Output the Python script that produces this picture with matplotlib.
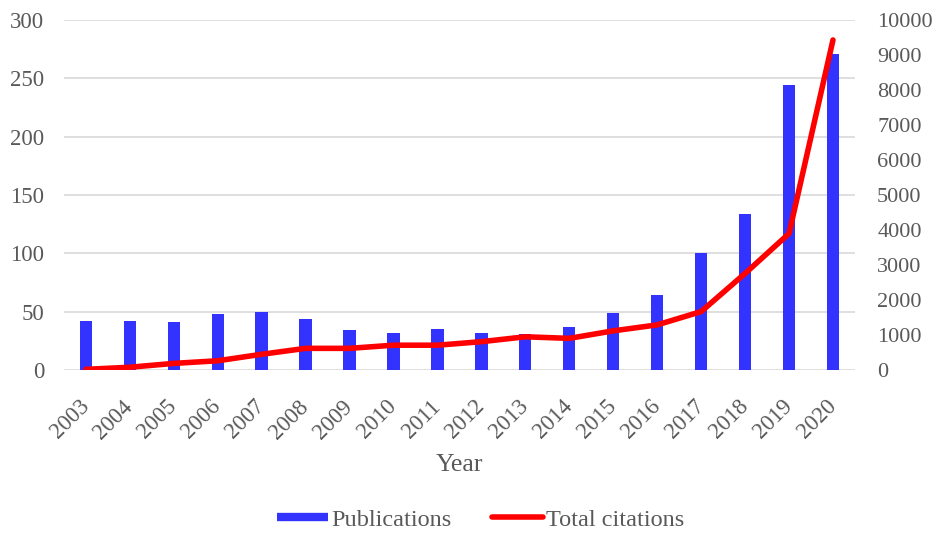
import matplotlib
matplotlib.use("Agg")
import matplotlib.pyplot as plt
from matplotlib.lines import Line2D
import numpy as np

years = [str(y) for y in range(2003, 2021)]
publications = [42, 42, 41, 48, 50, 44, 34, 32, 35, 32, 31, 37, 49, 64, 100, 134, 244, 271]
citations = [20, 80, 190, 265, 450, 620, 620, 710, 710, 810, 950, 905, 1120, 1290, 1670, 2760, 3900, 9430]
left_ticks = [0, 50, 100, 150, 200, 250, 300]
right_ticks = list(range(0, 10001, 1000))

plt.rcParams['font.family'] = ['Liberation Serif', 'DejaVu Serif']
text_color = '#595959'
bar_color = '#3333FF'
line_color = '#FF0000'

fig = plt.figure(figsize=(9.39, 5.41), dpi=100)
ax = fig.add_axes([0.068, 0.316, 0.8425, 0.647])
ax2 = ax.twinx()

x = np.arange(len(years))
ax.bar(x, publications, width=0.28, color=bar_color, zorder=2)
ax2.plot(x, citations, color=line_color, lw=4, solid_capstyle='round',
         solid_joinstyle='round', zorder=3)

ax.set_xlim(-0.5, len(years) - 0.5)
ax.set_ylim(0, 300)
ax2.set_ylim(0, 10000)
ax.set_yticks(left_ticks)
ax2.set_yticks(right_ticks)
ax.grid(axis='y', color='#D9D9D9', lw=1.2, zorder=0)
ax.set_axisbelow(True)

for a in (ax, ax2):
    for s in a.spines.values():
        s.set_visible(False)
    a.tick_params(length=0, labelsize=16.5, colors=text_color)

ax.tick_params(axis='y', pad=14)
ax2.tick_params(axis='y', pad=16, labelsize=16)
ax.set_xticks(x)
ax.set_xticklabels(years, rotation=45, ha='right', va='center', rotation_mode='anchor')
ax.tick_params(axis='x', pad=24)
ax.set_xlabel('Year', fontsize=18.5, color=text_color, labelpad=8)

handles = [
    Line2D([], [], color=bar_color, lw=6, solid_capstyle='butt'),
    Line2D([], [], color=line_color, lw=4, solid_capstyle='round'),
]
fig.legend(handles, ['Publications', 'Total citations'], loc='center',
           bbox_to_anchor=(0.512, 0.039), ncol=2, frameon=False, fontsize=17.5,
           labelcolor=text_color, handlelength=2.1, columnspacing=1.7,
           handletextpad=0.1)

fig.savefig('out.png', dpi=100)
